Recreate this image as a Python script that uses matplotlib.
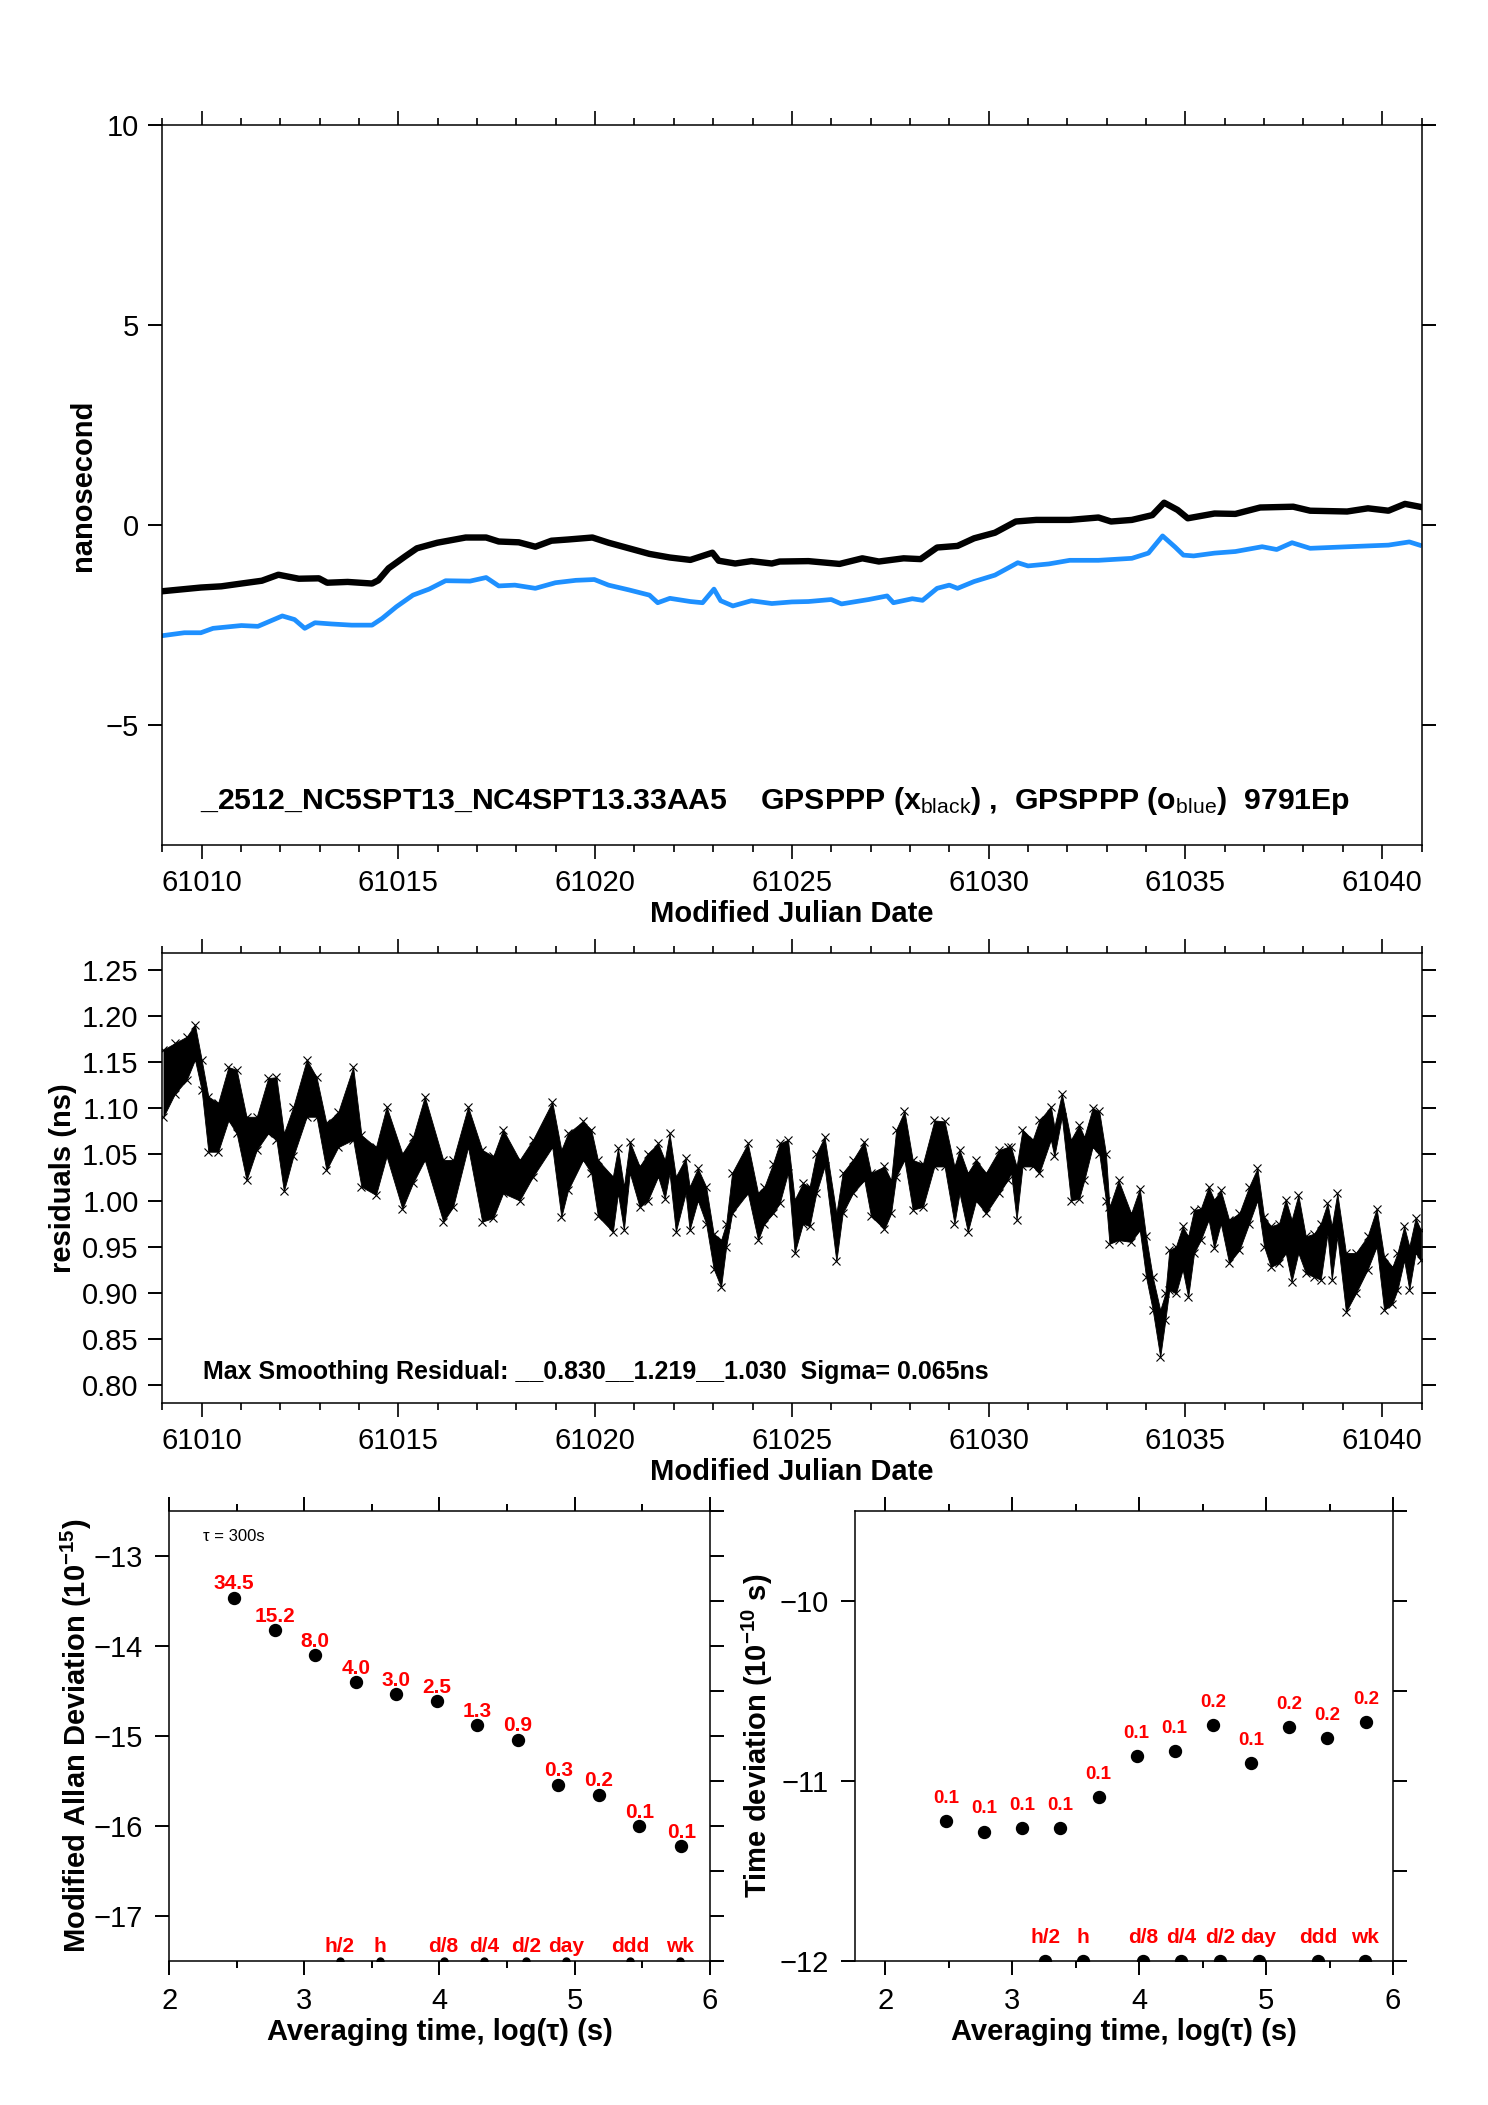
import numpy as np
import matplotlib
matplotlib.use('Agg')
import matplotlib.pyplot as plt
from matplotlib.ticker import MultipleLocator, StrMethodFormatter

plt.rcParams['font.family'] = ['Liberation Sans', 'DejaVu Sans']
plt.rcParams['mathtext.fontset'] = 'custom'
plt.rcParams['mathtext.rm'] = 'Liberation Sans'
plt.rcParams['mathtext.bf'] = 'Liberation Sans:bold'
plt.rcParams['mathtext.it'] = 'Liberation Sans:italic'
plt.rcParams['axes.linewidth'] = 1.1

# --- top panel: phase (ns) vs MJD ---
black_mjd = [61009.03, 61009.98, 61010.50, 61011.01, 61011.53, 61011.95, 61012.47, 61012.98,
             61013.19, 61013.71, 61014.33, 61014.49, 61014.75, 61015.16, 61015.47, 61015.99,
             61016.71, 61017.23, 61017.55, 61018.06, 61018.48, 61018.89, 61019.31, 61019.93,
             61020.34, 61020.86, 61021.38, 61021.90, 61022.42, 61022.98, 61023.14, 61023.56,
             61023.97, 61024.49, 61024.69, 61025.42, 61026.21, 61026.79, 61027.21, 61027.84,
             61028.27, 61028.69, 61029.21, 61029.63, 61030.16, 61030.69, 61031.21, 61032.06,
             61032.79, 61033.11, 61033.64, 61034.16, 61034.46, 61034.80, 61035.06, 61035.74,
             61036.27, 61036.90, 61037.74, 61038.17, 61039.11, 61039.64, 61040.16, 61040.58,
             61040.95]
black_ns = [-1.65, -1.56, -1.53, -1.46, -1.39, -1.24, -1.34, -1.33,
            -1.44, -1.42, -1.46, -1.38, -1.08, -0.79, -0.58, -0.44,
            -0.31, -0.31, -0.41, -0.43, -0.54, -0.39, -0.36, -0.31,
            -0.44, -0.58, -0.72, -0.81, -0.87, -0.69, -0.89, -0.96,
            -0.90, -0.96, -0.91, -0.90, -0.97, -0.83, -0.91, -0.83,
            -0.85, -0.56, -0.52, -0.33, -0.19, 0.09, 0.13, 0.13,
            0.19, 0.09, 0.13, 0.25, 0.56, 0.38, 0.17, 0.29,
            0.28, 0.44, 0.46, 0.36, 0.34, 0.42, 0.36, 0.53,
            0.46]

blue_mjd = [61009.03, 61009.56, 61009.98, 61010.29, 61011.01, 61011.43, 61012.05, 61012.36,
            61012.62, 61012.88, 61013.29, 61013.81, 61014.33, 61014.59, 61014.95, 61015.37,
            61015.78, 61016.20, 61016.82, 61017.23, 61017.55, 61017.96, 61018.48, 61018.99,
            61019.51, 61019.98, 61020.34, 61020.86, 61021.38, 61021.59, 61021.90, 61022.42,
            61022.73, 61023.02, 61023.19, 61023.50, 61023.97, 61024.49, 61025.00, 61025.42,
            61026.00, 61026.26, 61026.95, 61027.42, 61027.58, 61028.06, 61028.32, 61028.69,
            61029.00, 61029.21, 61029.63, 61030.16, 61030.74, 61031.00, 61031.53, 61032.06,
            61032.79, 61033.64, 61034.06, 61034.42, 61034.74, 61034.95, 61035.21, 61035.74,
            61036.27, 61036.95, 61037.32, 61037.71, 61038.17, 61038.90, 61039.64, 61040.16,
            61040.69, 61040.95]
blue_ns = [-2.76, -2.69, -2.69, -2.58, -2.51, -2.53, -2.27, -2.36,
           -2.58, -2.44, -2.47, -2.50, -2.50, -2.33, -2.04, -1.75,
           -1.60, -1.39, -1.40, -1.31, -1.52, -1.50, -1.58, -1.44,
           -1.38, -1.36, -1.50, -1.62, -1.75, -1.94, -1.83, -1.91,
           -1.94, -1.60, -1.89, -2.02, -1.89, -1.96, -1.92, -1.91,
           -1.86, -1.97, -1.86, -1.77, -1.94, -1.84, -1.88, -1.58,
           -1.50, -1.58, -1.41, -1.25, -0.94, -1.02, -0.97, -0.88,
           -0.88, -0.83, -0.70, -0.27, -0.55, -0.75, -0.77, -0.70,
           -0.66, -0.54, -0.61, -0.44, -0.58, -0.55, -0.52, -0.50,
           -0.42, -0.50]

# --- middle panel: smoothing residuals, band read as upper / lower envelope ---
res_mjd = [61009.03, 61009.32, 61009.62, 61009.83, 61010.00, 61010.17, 61010.42, 61010.68,
           61010.89, 61011.14, 61011.40, 61011.69, 61011.90, 61012.09, 61012.33, 61012.67,
           61012.92, 61013.17, 61013.47, 61013.85, 61014.06, 61014.43, 61014.70, 61015.10,
           61015.37, 61015.67, 61016.14, 61016.39, 61016.77, 61017.13, 61017.41, 61017.66,
           61018.08, 61018.42, 61018.91, 61019.14, 61019.31, 61019.69, 61019.90, 61020.07,
           61020.45, 61020.58, 61020.73, 61020.88, 61021.13, 61021.34, 61021.60, 61021.77,
           61021.89, 61022.05, 61022.30, 61022.40, 61022.61, 61022.82, 61023.01, 61023.20,
           61023.33, 61023.48, 61023.88, 61024.14, 61024.30, 61024.52, 61024.69, 61024.90,
           61025.07, 61025.28, 61025.45, 61025.62, 61025.83, 61026.13, 61026.29, 61026.55,
           61026.84, 61027.01, 61027.35, 61027.52, 61027.65, 61027.86, 61028.07, 61028.33,
           61028.62, 61028.88, 61029.13, 61029.26, 61029.47, 61029.68, 61029.93, 61030.27,
           61030.48, 61030.57, 61030.71, 61030.86, 61031.12, 61031.29, 61031.58, 61031.67,
           61031.86, 61032.09, 61032.30, 61032.43, 61032.64, 61032.81, 61032.98, 61033.07,
           61033.30, 61033.62, 61033.84, 61034.00, 61034.17, 61034.36, 61034.49, 61034.59,
           61034.76, 61034.93, 61035.07, 61035.22, 61035.39, 61035.59, 61035.73, 61035.90,
           61036.11, 61036.37, 61036.62, 61036.83, 61037.00, 61037.17, 61037.38, 61037.55,
           61037.70, 61037.87, 61038.06, 61038.27, 61038.44, 61038.61, 61038.72, 61038.86,
           61039.08, 61039.33, 61039.63, 61039.86, 61040.05, 61040.26, 61040.39, 61040.56,
           61040.69, 61040.85, 61040.98]
res_hi = [1.164, 1.171, 1.178, 1.191, 1.153, 1.113, 1.106, 1.145,
          1.142, 1.091, 1.091, 1.133, 1.134, 1.073, 1.102, 1.153,
          1.134, 1.084, 1.096, 1.145, 1.071, 1.058, 1.102, 1.051,
          1.069, 1.113, 1.044, 1.044, 1.102, 1.055, 1.048, 1.077,
          1.044, 1.066, 1.107, 1.055, 1.073, 1.086, 1.077, 1.044,
          1.026, 1.057, 1.015, 1.064, 1.037, 1.051, 1.062, 1.044,
          1.073, 1.026, 1.046, 1.015, 1.035, 1.015, 0.964, 0.957,
          0.975, 1.030, 1.062, 1.008, 1.015, 1.040, 1.062, 1.066,
          1.001, 1.019, 1.015, 1.051, 1.069, 0.986, 1.030, 1.044,
          1.064, 1.030, 1.037, 1.022, 1.077, 1.097, 1.044, 1.040,
          1.087, 1.086, 1.037, 1.055, 1.030, 1.044, 1.030, 1.055,
          1.058, 1.058, 1.037, 1.077, 1.066, 1.087, 1.102, 1.080,
          1.116, 1.066, 1.082, 1.069, 1.100, 1.097, 1.051, 0.993,
          1.022, 0.986, 1.013, 0.961, 0.917, 0.881, 0.899, 0.946,
          0.950, 0.972, 0.961, 0.990, 0.991, 1.015, 1.001, 1.011,
          0.979, 0.986, 1.015, 1.035, 0.982, 0.972, 0.975, 1.001,
          0.979, 1.006, 0.961, 0.964, 0.975, 0.997, 0.972, 1.008,
          0.943, 0.943, 0.961, 0.991, 0.939, 0.928, 0.943, 0.972,
          0.950, 0.981, 0.968]
res_lo = [1.091, 1.116, 1.131, 1.153, 1.120, 1.053, 1.053, 1.087,
          1.073, 1.022, 1.055, 1.073, 1.066, 1.010, 1.048, 1.091,
          1.091, 1.033, 1.058, 1.066, 1.015, 1.006, 1.048, 0.991,
          1.019, 1.044, 0.977, 0.993, 1.058, 0.977, 0.981, 1.008,
          1.000, 1.026, 1.058, 0.982, 1.011, 1.044, 1.030, 0.983,
          0.966, 1.008, 0.968, 1.030, 0.993, 1.000, 1.026, 1.002,
          1.030, 0.966, 1.008, 0.968, 1.000, 0.975, 0.926, 0.906,
          0.950, 0.986, 1.008, 0.957, 0.975, 0.986, 0.997, 1.030,
          0.943, 0.975, 0.972, 1.008, 1.037, 0.934, 0.986, 1.008,
          1.022, 0.983, 0.969, 0.986, 1.026, 1.044, 0.990, 0.993,
          1.037, 1.037, 0.975, 1.008, 0.966, 1.000, 0.986, 1.008,
          1.022, 1.030, 0.979, 1.037, 1.037, 1.030, 1.066, 1.048,
          1.091, 1.000, 1.002, 1.022, 1.058, 1.051, 1.000, 0.953,
          0.957, 0.955, 0.968, 0.917, 0.881, 0.830, 0.870, 0.903,
          0.899, 0.925, 0.895, 0.943, 0.957, 0.979, 0.948, 0.975,
          0.932, 0.946, 0.975, 1.000, 0.950, 0.928, 0.932, 0.943,
          0.912, 0.943, 0.921, 0.917, 0.914, 0.964, 0.914, 0.961,
          0.879, 0.899, 0.925, 0.950, 0.881, 0.888, 0.903, 0.935,
          0.903, 0.943, 0.935]

# --- bottom panels: stability vs log(tau) ---
log_tau = [2.48, 2.78, 3.08, 3.38, 3.68, 3.98, 4.28, 4.58, 4.88, 5.18, 5.48, 5.79]
mdev = [-13.46, -13.82, -14.10, -14.40, -14.53, -14.61, -14.88, -15.04, -15.54, -15.65, -16.00, -16.22]
mdev_lbl = ['34.5', '15.2', '8.0', '4.0', '3.0', '2.5', '1.3', '0.9', '0.3', '0.2', '0.1', '0.1']
tdev = [-11.22, -11.28, -11.26, -11.26, -11.09, -10.86, -10.83, -10.69, -10.90, -10.70, -10.76, -10.67]
tdev_lbl = ['0.1', '0.1', '0.1', '0.1', '0.1', '0.1', '0.1', '0.2', '0.1', '0.2', '0.2', '0.2']
span_tau = [3.26, 3.56, 4.03, 4.33, 4.64, 4.94, 5.41, 5.78]
span_lbl = ['h/2', 'h', 'd/8', 'd/4', 'd/2', 'day', 'ddd', 'wk']

fig = plt.figure(figsize=(14.88, 21.05), dpi=100)


def mjd_axis(ax):
    ax.set_xlim(61009, 61041)
    ax.xaxis.set_major_locator(MultipleLocator(5))
    ax.xaxis.set_minor_locator(MultipleLocator(1))
    ax.xaxis.set_major_formatter(StrMethodFormatter('{x:.0f}'))
    ax.tick_params(axis='x', which='both', direction='out', top=True, bottom=True)
    ax.tick_params(axis='x', which='major', length=10, width=1.2, labelsize=21, pad=7)
    ax.tick_params(axis='x', which='minor', length=5, width=1.2)
    ax.tick_params(axis='y', which='major', direction='out', left=True, right=True,
                   length=10, width=1.4, labelsize=21, pad=7)
    ax.set_xlabel('Modified Julian Date', fontsize=21, fontweight='bold', labelpad=2.5)


ax1 = fig.add_axes([0.10907, 0.59848, 0.84624, 0.34214])
ax1.plot(black_mjd, black_ns, color='black', lw=4.6)
ax1.plot(blue_mjd, blue_ns, color='#1E90FF', lw=3.4)
ax1.set_ylim(-8, 10)
ax1.set_yticks([-5, 0, 5, 10])
mjd_axis(ax1)
ax1.set_ylabel('nanosecond', fontsize=21, fontweight='bold', labelpad=6)
ax1.text(0.030, 0.0614,
         r'_2512_NC5SPT13_NC4SPT13.33AA5    GPSPPP (x$_{\mathrm{black}}$) ,  '
         r'GPSPPP (o$_{\mathrm{blue}}$)  9791Ep',
         transform=ax1.transAxes, fontsize=21.8, fontweight='bold', va='center', ha='left')

ax2 = fig.add_axes([0.10907, 0.33354, 0.84624, 0.21363])
ax2.fill_between(res_mjd, res_lo, res_hi, color='black', lw=0.6)
ax2.plot(res_mjd, res_hi, ls='none', color='black', marker='x', ms=6, mew=0.8)
ax2.plot(res_mjd, res_lo, ls='none', color='black', marker='x', ms=6, mew=0.8)
ax2.set_ylim(0.7801, 1.2687)
ax2.yaxis.set_major_locator(MultipleLocator(0.05))
ax2.yaxis.set_major_formatter(StrMethodFormatter('{x:.2f}'))
mjd_axis(ax2)
ax2.set_ylabel('residuals (ns)', fontsize=21, fontweight='bold', labelpad=4)
ax2.text(0.032, 0.0687, 'Max Smoothing Residual: __0.830__1.219__1.030  Sigma= 0.065ns',
         transform=ax2.transAxes, fontsize=18, fontweight='bold', va='center', ha='left')


def tau_axis(ax):
    ax.xaxis.set_major_locator(MultipleLocator(1))
    ax.xaxis.set_minor_locator(MultipleLocator(0.5))
    ax.yaxis.set_major_locator(MultipleLocator(1))
    ax.yaxis.set_minor_locator(MultipleLocator(0.5))
    ax.tick_params(axis='x', which='both', direction='out', top=True, bottom=True)
    ax.tick_params(axis='x', which='major', length=10, width=1.4, labelsize=21, pad=9)
    ax.tick_params(axis='x', which='minor', length=5, width=1.4)
    ax.tick_params(axis='y', which='major', direction='out', left=True, right=True,
                   length=10, width=1.4, labelsize=21, pad=9)
    ax.tick_params(axis='y', which='minor', direction='out', left=False, right=True,
                   length=10, width=1.4)
    ax.set_xlabel('Averaging time, log(τ) (s)', fontsize=21, fontweight='bold', labelpad=2)


ax3 = fig.add_axes([0.11384, 0.06841, 0.36304, 0.21359])
ax3.set_xlim(2, 6)
ax3.set_ylim(-17.5, -12.5)
ax3.plot(log_tau, mdev, 'o', color='black', ms=8.6)
for x, y, s in zip(log_tau, mdev, mdev_lbl):
    ax3.annotate(s, (x, y), xytext=(0, 6), textcoords='offset points', ha='center',
                 va='baseline', color='red', fontsize=15, fontweight='bold')
y0 = ax3.get_ylim()[0]
ax3.plot(span_tau, [y0] * len(span_tau), 'o', color='black', ms=5)
for x, s in zip(span_tau, span_lbl):
    ax3.annotate(s, (x, y0), xytext=(0, 6.5), textcoords='offset points', ha='center',
                 va='baseline', color='red', fontsize=15, fontweight='bold')
ax3.text(0.0615, 0.944, 'τ = 300s', transform=ax3.transAxes, fontsize=12, va='center')
tau_axis(ax3)
ax3.set_ylabel(r'Modified Allan Deviation (10$^{\mathbf{-15}}$)', fontsize=21,
               fontweight='bold', labelpad=0)

ax4 = fig.add_axes([0.57446, 0.06841, 0.36176, 0.21359])
ax4.set_xlim(1.76, 6)
ax4.set_ylim(-12, -9.5)
ax4.plot(log_tau, tdev, 'o', color='black', ms=8.6)
for x, y, s in zip(log_tau, tdev, tdev_lbl):
    ax4.annotate(s, (x, y), xytext=(0, 13), textcoords='offset points', ha='center',
                 va='baseline', color='red', fontsize=13.5, fontweight='bold')
y0 = ax4.get_ylim()[0]
ax4.plot(span_tau, [y0] * len(span_tau), 'o', color='black', ms=8.6)
for x, s in zip(span_tau, span_lbl):
    ax4.annotate(s, (x, y0), xytext=(0, 13), textcoords='offset points', ha='center',
                 va='baseline', color='red', fontsize=15, fontweight='bold')
tau_axis(ax4)
ax4.set_ylabel(r'Time deviation (10$^{\mathbf{-10}}$ s)', fontsize=21,
               fontweight='bold', labelpad=3)

fig.savefig('out.png', dpi=100)
